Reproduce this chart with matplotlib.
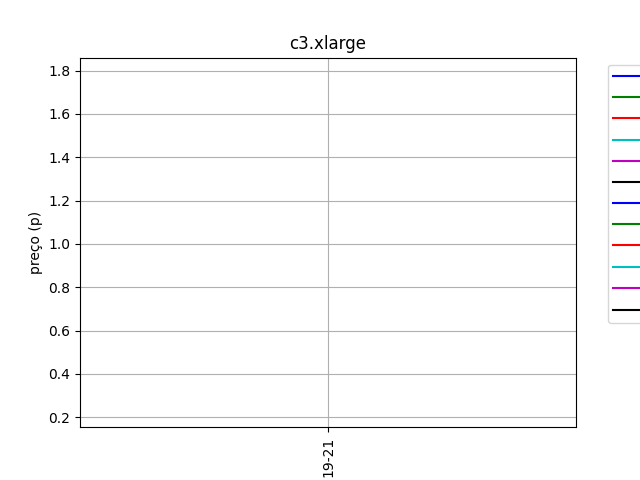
import matplotlib
matplotlib.use("Agg")
import matplotlib.pyplot as plt

dates = ["19-21"]
labels = ["sa-east-1a São Paulo (Linux/UNIX)", "sa-east-1b São Paulo (Linux/UNIX)",
          "sa-east-1c São Paulo (Linux/UNIX)", "us-east-1a Virgínia (Linux/UNIX)",
          "us-east-1b Virgínia (Linux/UNIX)", "us-east-1c Virgínia (Linux/UNIX)",
          "sa-east-1a São Paulo (Windows)", "sa-east-1b São Paulo (Windows)",
          "sa-east-1c São Paulo (Windows)", "us-east-1a Virgínia (Windows)",
          "us-east-1b Virgínia (Windows)", "us-east-1c Virgínia (Windows)"]
prices = [[0.232], [0.25], [0.27], [0.3], [0.35], [0.4],
          [1.6], [1.65], [1.7], [1.75], [1.78], [1.783]]
colors = ["b", "g", "r", "c", "m", "k"] * 2

fig, ax = plt.subplots(figsize=(6.4, 4.8), dpi=100)
for lab, p, c in zip(labels, prices, colors):
    ax.plot(dates, p, color=c, label=lab)
ax.set_title("c3.xlarge")
ax.set_ylabel("preço (p)")
ax.set_ylim(0.154, 1.86)
ax.set_xlim(-0.05, 0.05)
ax.grid(True)
plt.xticks(rotation=90)
ax.legend(bbox_to_anchor=(1.05, 1), loc="upper left")
fig.savefig("out.png")
